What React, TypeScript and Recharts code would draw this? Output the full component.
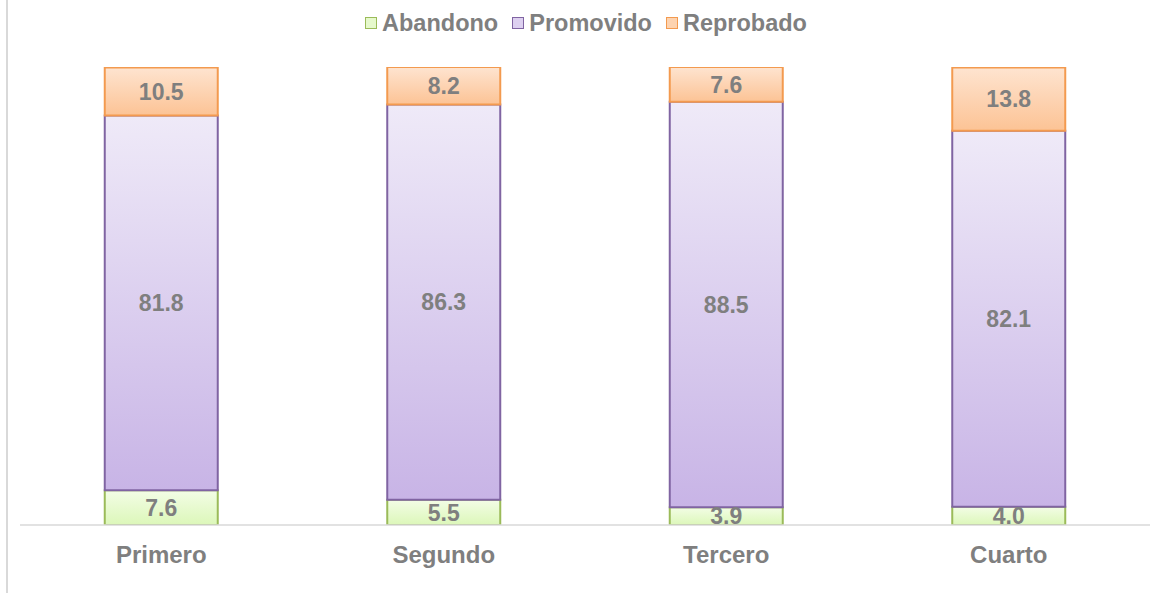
import React from 'react';
import { BarChart, Bar, XAxis, YAxis, LabelList } from 'recharts';

const categories = ['Primero', 'Segundo', 'Tercero', 'Cuarto'];
const abandono = [7.6, 5.5, 3.9, 4.0];
const promovido = [81.8, 86.3, 88.5, 82.1];
const reprobado = [10.5, 8.2, 7.6, 13.8];

const data = categories.map((c, i) => ({
  name: c,
  Abandono: abandono[i],
  Promovido: promovido[i],
  Reprobado: reprobado[i],
}));

const series = [
  { key: 'Abandono', stroke: '#9bbb59', top: '#f3fde6', bottom: '#dcf7b9', legendFill: '#e6f9cc' },
  { key: 'Promovido', stroke: '#8064a2', top: '#efeaf8', bottom: '#c8b4e6', legendFill: '#ddd0f0' },
  { key: 'Reprobado', stroke: '#f39a4f', top: '#fee4d0', bottom: '#fcc395', legendFill: '#fdd3b0' },
];

const FONT = 'Arial, "Liberation Sans", sans-serif';
const GRAY = '#7f7f7f';

const LegendBox = () => (
  <div style={{ position: 'absolute', left: 0, top: 8, width: 1172, display: 'flex', justifyContent: 'center', alignItems: 'center', fontFamily: FONT, fontWeight: 'bold', fontSize: 23.5, color: GRAY, lineHeight: '30px', paddingLeft: 0 }}>
    {series.map((s, i) => (
      <div key={s.key} style={{ display: 'flex', alignItems: 'center', marginRight: i < series.length - 1 ? 14 : 0 }}>
        <span style={{ display: 'inline-block', width: 10, height: 10, border: `1.5px solid ${s.stroke}`, background: s.legendFill, marginRight: 5 }} />
        <span>{s.key}</span>
      </div>
    ))}
  </div>
);

const CatTick = (props: any) => {
  const { x, y, payload } = props;
  return (
    <text x={x} y={y + 30} textAnchor="middle" fontFamily={FONT} fontWeight="bold" fontSize={24} fill={GRAY}>
      {payload.value}
    </text>
  );
};

export default function App() {
  return (
    <div style={{ position: 'absolute', left: 0, top: 0, width: 1172, height: 593, background: '#fff' }}>
      <div style={{ position: 'absolute', left: 6, top: 0, width: 2, height: 593, background: '#d9d9d9' }} />
      <LegendBox />
      <BarChart width={1172} height={593} data={data} margin={{ top: 67, right: 22, bottom: 0, left: 20 }} barCategoryGap="30%">
        <defs>
          {series.map((s) => (
            <linearGradient key={s.key} id={`g-${s.key}`} x1="0" y1="0" x2="0" y2="1">
              <stop offset="0%" stopColor={s.top} />
              <stop offset="100%" stopColor={s.bottom} />
            </linearGradient>
          ))}
        </defs>
        <XAxis dataKey="name" height={68} tickLine={false} axisLine={{ stroke: '#d9d9d9', strokeWidth: 1.5 }} tick={<CatTick />} interval={0} />
        <YAxis hide domain={[0, 100]} allowDataOverflow />
        {series.map((s) => (
          <Bar key={s.key} dataKey={s.key} stackId="a" fill={`url(#g-${s.key})`} stroke={s.stroke} strokeWidth={2} isAnimationActive={false}>
            <LabelList dataKey={s.key} position="center" formatter={(v: any) => Number(v).toFixed(1)} style={{ fontFamily: FONT, fontWeight: 'bold', fontSize: 23, fill: GRAY }} />
          </Bar>
        ))}
      </BarChart>
    </div>
  );
}
